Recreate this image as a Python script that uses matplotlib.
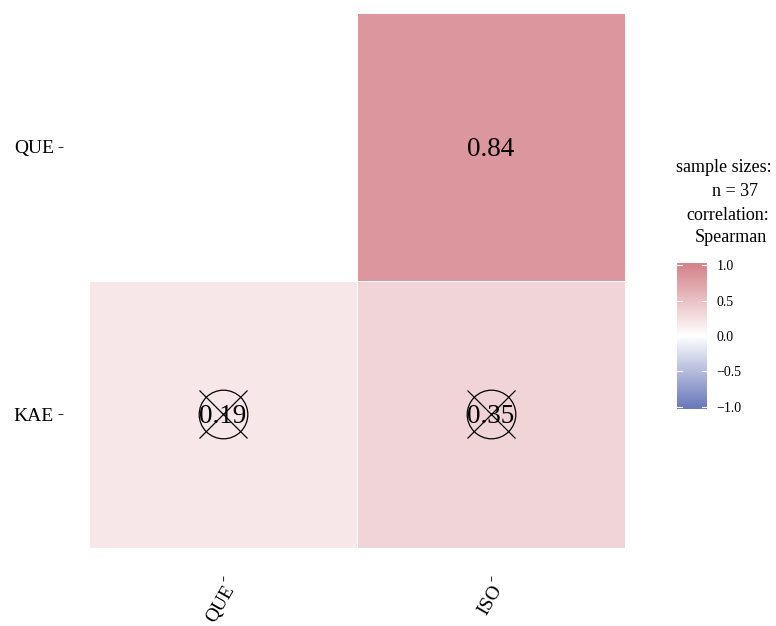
import numpy as np
import matplotlib
matplotlib.use("Agg")
import matplotlib.pyplot as plt
from matplotlib.colors import LinearSegmentedColormap, Normalize

plt.rcParams["font.family"] = ["Liberation Serif", "DejaVu Serif"]

# correlation matrix (rows from bottom to top), NaN = not drawn
col_labels = ["QUE", "ISO"]
row_labels = ["KAE", "QUE"]
r_values = np.array([[0.19, 0.35],
                     [np.nan, 0.84]])
not_signif = np.array([[True, True],
                       [False, False]])
n_obs = 37
cbar_ticks = [-1.0, -0.5, 0.0, 0.5, 1.0]

cmap = LinearSegmentedColormap.from_list(
    "corr", ["#6B7ABB", "#FFFFFF", "#D4848B"])
norm = Normalize(-1, 1)

W, H = 776, 626
fig = plt.figure(figsize=(W / 100, H / 100), dpi=100)

# axes frame: left spine at x=63, right 625, top 13, bottom 576 (pixels)
ax = fig.add_axes([63 / W, (H - 576) / H, 562 / W, 563 / H])
xe = np.arange(len(col_labels) + 1) + 0.5
ye = np.arange(len(row_labels) + 1) + 0.5
ax.pcolormesh(xe, ye, np.ma.masked_invalid(r_values), cmap=cmap, norm=norm,
              edgecolors="white", linewidth=0.6)
ax.set_xlim(0.5 - 26 / 268, 2.5)
ax.set_ylim(0.5 - 28 / 267.5, 2.5)

for i in range(len(row_labels)):
    for j in range(len(col_labels)):
        v = r_values[i, j]
        if np.isnan(v):
            continue
        ax.annotate(f"{v:.2f}", (j + 1, i + 1), xytext=(0, -2.5),
                    textcoords="offset pixels", ha="center", va="center",
                    fontsize=19.5, color="black")
        if not_signif[i, j]:
            ax.plot(j + 1, i + 1, marker="o", markersize=35, mfc="none",
                    mec="black", mew=0.9)
            ax.plot(j + 1, i + 1, marker="x", markersize=35, mec="black",
                    mew=0.9)

for s in ax.spines.values():
    s.set_visible(False)
ax.set_xticks(np.arange(1, len(col_labels) + 1))
ax.set_yticks(np.arange(1, len(row_labels) + 1))
ax.set_xticklabels(col_labels, rotation=60, ha="right", va="top",
                   rotation_mode="anchor", fontsize=14)
ax.set_yticklabels(row_labels, fontsize=14)
ax.tick_params(length=3.5, width=0.8, color="#333333", pad=3)
ax.tick_params(axis="x", pad=1)

# legend title
title_lines = [("sample sizes:", 724, 168), ("n = %d" % n_obs, 735, 192),
               ("correlation:", 728, 215), ("Spearman", 731, 237)]
for txt, x, y in title_lines:
    fig.text(x / W, 1 - y / H, txt, ha="center", va="center", fontsize=13)

# colour bar
cax = fig.add_axes([677 / W, (H - 409) / H, 30 / W, 146 / H])
grad = np.linspace(-1.03, 1.03, 256).reshape(-1, 1)
cax.imshow(grad, cmap=cmap, norm=norm, aspect="auto", origin="lower",
           extent=[0, 1, -1.03, 1.03])
cax.set_xlim(0, 1)
cax.set_ylim(-1.03, 1.03)
for t in cbar_ticks:
    cax.plot([0, 0.18], [t, t], color="white", lw=0.8)
    cax.plot([0.82, 1], [t, t], color="white", lw=0.8)
cax.set_xticks([])
cax.yaxis.tick_right()
cax.set_yticks(cbar_ticks)
cax.set_yticklabels([f"{t:.1f}".replace("-", "\u2212") for t in cbar_ticks],
                    fontsize=10)
cax.tick_params(axis="y", length=0, pad=7)
for s in cax.spines.values():
    s.set_visible(False)

fig.savefig("out.png", dpi=100)
